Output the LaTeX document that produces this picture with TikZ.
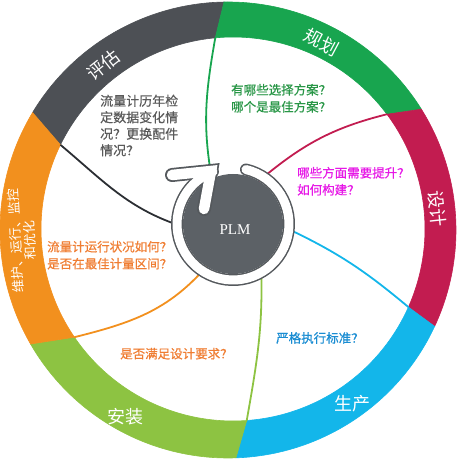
\documentclass[tikz,border=0pt]{standalone}
\usepackage{fontspec}
\newfontfamily\cjk{Noto Sans CJK SC}
\newfontfamily\cjkbold[FakeBold=0.6]{Noto Sans CJK SC}
\newfontfamily\plmfont{Liberation Serif}
\definecolor{ringgrey}{RGB}{77,80,85}
\definecolor{ringgreen}{RGB}{24,165,79}
\definecolor{ringred}{RGB}{194,28,80}
\definecolor{ringcyan}{RGB}{19,182,234}
\definecolor{ringlime}{RGB}{141,195,66}
\definecolor{ringorange}{RGB}{242,144,30}
\definecolor{hubgrey}{RGB}{92,97,102}
\definecolor{bandedge}{RGB}{85,89,93}
\definecolor{spokedark}{RGB}{43,46,51}
\definecolor{askgrey}{RGB}{90,90,90}
\definecolor{askgreen}{RGB}{40,150,70}
\definecolor{askmagenta}{RGB}{230,25,230}
\definecolor{askorange}{RGB}{239,125,50}
\definecolor{askblue}{RGB}{25,140,210}

\begin{document}
\begin{tikzpicture}[
    x=1pt, y=1pt,
    seglabel/.style={
        text=white, font=\cjk\fontsize{18}{18}\selectfont, inner sep=0pt,
    },
    question/.style={
        font=\cjkbold\fontsize{12.5}{17}\selectfont, inner sep=0pt, align=left,
    },
    spoke/.style={line width=1.8pt},
    hub/.style={circle, fill=hubgrey, minimum size=100pt, inner sep=0pt},
]
\useasboundingbox (0,0) rectangle (461,464);

% --- Ring centres and inner ends of the borders ---
\coordinate (oc) at (228,234);
\coordinate (ic) at (233,235);
\coordinate (b1) at ([shift={(154:192)}]ic);
\coordinate (b2) at ([shift={(95.3:192)}]ic);
\coordinate (b3) at ([shift={(36.7:192)}]ic);
\coordinate (b4) at ([shift={(-24:192)}]ic);
\coordinate (b5) at ([shift={(-85.9:192)}]ic);
\coordinate (b6) at ([shift={(-145.7:192)}]ic);

% --- Ring segments ---
\filldraw[ringgrey, line width=0.6pt] ([shift={(149:228)}]oc)
    arc[start angle=149, end angle=91, radius=228]
    -- (b2) arc[start angle=95.3, end angle=154, radius=192] -- cycle;
\filldraw[ringgreen, line width=0.6pt] ([shift={(91:228)}]oc)
    arc[start angle=91, end angle=32, radius=228]
    -- (b3) arc[start angle=36.7, end angle=95.3, radius=192] -- cycle;
\filldraw[ringred, line width=0.6pt] ([shift={(32:228)}]oc)
    arc[start angle=32, end angle=-25, radius=228]
    -- (b4) arc[start angle=-24, end angle=36.7, radius=192] -- cycle;
\filldraw[ringcyan, line width=0.6pt] ([shift={(-25:228)}]oc)
    arc[start angle=-25, end angle=-88, radius=228]
    -- (b5) arc[start angle=-85.9, end angle=-24, radius=192] -- cycle;
\filldraw[ringlime, line width=0.6pt] ([shift={(-88:228)}]oc)
    arc[start angle=-88, end angle=-150, radius=228]
    -- (b6) arc[start angle=-145.7, end angle=-85.9, radius=192] -- cycle;
\filldraw[ringorange, line width=0.6pt] ([shift={(210:228)}]oc)
    arc[start angle=210, end angle=149, radius=228]
    -- (b1) arc[start angle=154, end angle=214.3, radius=192] -- cycle;

% --- Segment names ---
\node[seglabel, rotate=38] (evaltext) at (103.5,399) {评估};
\node[seglabel, rotate=-28] (plantext) at (321.5,422) {规划};
\node[seglabel, rotate=-84] (designtext) at (437.5,255) {设计};
\node[seglabel] (maketext) at (352,60) {生产};
\node[seglabel] (buildtext) at (125,47) {安装};
\node[seglabel, rotate=93, align=center, font=\cjk\fontsize{13}{14}\selectfont]
    (runtext) at (22.75,223.5) {维护、运行、监控\\和优化};

% --- Hub ---
\node[hub] (plm) at (233,240) {};

% --- Spokes from the borders to the hub ---
\draw[spoke, spokedark] (b1) to[out=-40, in=162] (plm.183);
\draw[spoke, ringgreen] (b2) to[out=-100, in=100] (plm.115);
\draw[spoke, ringred] (b3) to[out=194, in=40] (plm.59);
\draw[spoke, ringcyan] (b4) to[out=140, in=-25] (plm.-3);
\draw[spoke, ringlime] (b5) to[out=80, in=-88] (plm.-56);
\draw[spoke, ringorange] (b6) to[out=14, in=229] (plm.238);

% --- Circular arrow round the hub ---
\coordinate (tipL) at (172,289);
\coordinate (tip) at (211,293);
\coordinate (tipD) at (204,255);
\draw[bandedge, line width=12pt, line cap=round]
    ([shift={(76.6:56)}]plm.center) arc[start angle=76.6, end angle=-249, radius=56];
\draw[bandedge, line width=14pt, line join=miter, line cap=round] (tipL) -- (tip) -- (tipD);
\draw[white, line width=9pt, line cap=round]
    ([shift={(76.6:56)}]plm.center) arc[start angle=76.6, end angle=-249, radius=56];
\draw[white, line width=10.5pt, line join=miter, line cap=round] (tipL) -- (tip) -- (tipD);
\node[text=white, font=\plmfont\fontsize{15}{15}\selectfont, inner sep=0pt]
    (plmtext) at (235,234) {PLM};

% --- Questions ---
\node[question, text=askgrey, anchor=north west, font=\cjkbold\fontsize{13}{16.5}\selectfont]
    (evalask) at (100,369.5) {流量计历年检\\定数据变化情\\况？更换配件\\情况？};
\node[question, text=askgreen, anchor=north west] (planask) at (231,380.25)
    {有哪些选择方案？\\哪个是最佳方案？};
\node[question, text=askmagenta, anchor=north west] (designask) at (297,297.25)
    {哪些方面需要提升？\\如何构建？};
\node[question, text=askorange, anchor=north west] (runask) at (47,223.25)
    {流量计运行状况如何？\\是否在最佳计量区间？};
\node[question, text=askorange, anchor=west] (buildask) at (120,110.3)
    {是否满足设计要求？};
\node[question, text=askblue, anchor=west] (makeask) at (276,126)
    {严格执行标准？};

\end{tikzpicture}
\end{document}
